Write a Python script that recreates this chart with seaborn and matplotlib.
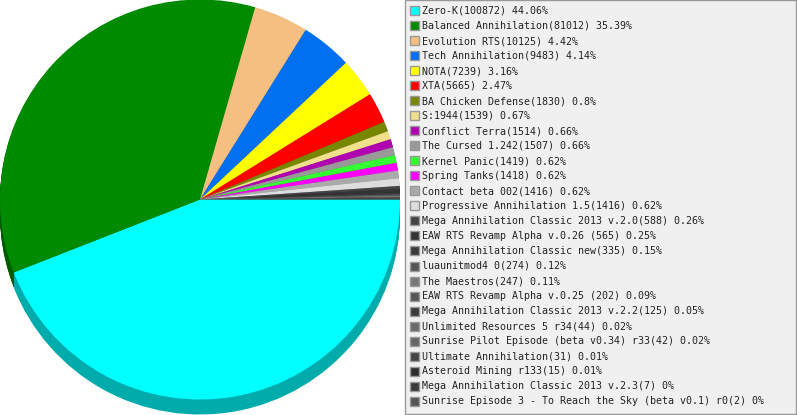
import numpy as np
import matplotlib
matplotlib.use("Agg")
import matplotlib.pyplot as plt
from matplotlib.patches import Rectangle
import seaborn as sns

names = [
    "Zero-K", "Balanced Annihilation", "Evolution RTS", "Tech Annihilation",
    "NOTA", "XTA", "BA Chicken Defense", "S:1944", "Conflict Terra",
    "The Cursed 1.242", "Kernel Panic", "Spring Tanks", "Contact beta 002",
    "Progressive Annihilation 1.5", "Mega Annihilation Classic 2013 v.2.0",
    "EAW RTS Revamp Alpha v.0.26 ", "Mega Annihilation Classic new",
    "luaunitmod4 0", "The Maestros", "EAW RTS Revamp Alpha v.0.25 ",
    "Mega Annihilation Classic 2013 v.2.2", "Unlimited Resources 5 r34",
    "Sunrise Pilot Episode (beta v0.34) r33", "Ultimate Annihilation",
    "Asteroid Mining r133", "Mega Annihilation Classic 2013 v.2.3",
    "Sunrise Episode 3 - To Reach the Sky (beta v0.1) r0",
]
counts = [100872, 81012, 10125, 9483, 7239, 5665, 1830, 1539, 1514, 1507,
          1419, 1418, 1416, 1416, 588, 565, 335, 274, 247, 202, 125, 44, 42,
          31, 15, 7, 2]
hex_colors = [
    "#00ffff", "#008a00", "#f4bf80", "#0070f0", "#ffff00", "#ff0000",
    "#778800", "#f0e08c", "#b000b0", "#999999", "#33ff33", "#ff00ff",
    "#aaaaaa", "#dddddd", "#444444", "#333333", "#3a3a3a", "#555555",
    "#777777", "#555555", "#3b3b3b", "#6a6a6a", "#666666", "#444444",
    "#2e2e2e", "#3a3a3a", "#555555",
]

sns.set_style("white")
plt.rcParams['font.family'] = ['DejaVu Sans Mono', 'DejaVu Sans']

W, H = 797, 415
colors = sns.color_palette(hex_colors)
dark = [tuple(np.array(c) * 0.67) for c in colors]

fig = plt.figure(figsize=(W / 100, H / 100), dpi=100)
ax = fig.add_axes([0, 0, 1, 1])

cx, cy, r = 200, H - 199.5, 200
depth = 15

# side of the 3d pie
for k in range(depth, 0, -1):
    ax.pie(counts, colors=dark, startangle=0, counterclock=False,
           radius=r, center=(cx, cy - k),
           wedgeprops=dict(linewidth=0))
# top face
ax.pie(counts, colors=colors, startangle=0, counterclock=False,
       radius=r, center=(cx, cy), wedgeprops=dict(linewidth=0))

ax.set_xlim(0, W)
ax.set_ylim(0, H)
ax.set_aspect('auto')
ax.axis('off')

# legend box
ax.add_patch(Rectangle((405, H - 414), 391, 414, facecolor="#f0f0f0",
                       edgecolor="#999999", linewidth=1, zorder=5))
total = sum(counts)
for i, (n, c) in enumerate(zip(names, counts)):
    y = H - (11 + 15 * i)
    pct = f"{round(c / total * 100, 2):g}"
    ax.add_patch(Rectangle((410, y - 4.5), 9, 9, facecolor=colors[i],
                           edgecolor="#999999", linewidth=1, zorder=6))
    ax.text(422, y, f"{n}({c}) {pct}%", fontsize=7.2, color="#222222",
            va="center", ha="left", zorder=7)

fig.savefig("out.png", dpi=100)
